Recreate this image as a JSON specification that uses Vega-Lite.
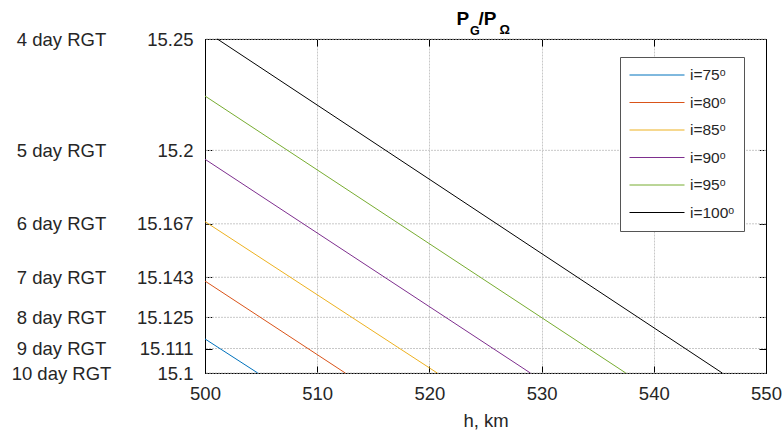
{
  "$schema": "https://vega.github.io/schema/vega-lite/v6.json",
  "width": 561,
  "height": 334,
  "autosize": {"type": "none"},
  "padding": {"left": 205, "top": 39, "right": 17, "bottom": 61},
  "background": "white",
  "config": {
    "font": "Liberation Sans",
    "view": {"stroke": "black", "strokeWidth": 1},
    "axis": {
      "labelFont": "Liberation Sans",
      "labelFontSize": 18.5,
      "labelColor": "#262626",
      "titleFont": "Liberation Sans",
      "titleFontSize": 18.5,
      "titleFontWeight": "normal",
      "titleColor": "#262626",
      "tickColor": "black",
      "domainColor": "black",
      "gridColor": "#c8c8c8",
      "gridDash": [2, 1],
      "labelOverlap": false,
      "labelBound": false,
      "labelFlush": false
    }
  },
  "datasets": {
    "lines": [
      {"series": "i=75\u1d52", "h": 500, "ratio": 15.1153},
      {"series": "i=75\u1d52", "h": 504.7, "ratio": 15.1},
      {"series": "i=80\u1d52", "h": 500, "ratio": 15.1413},
      {"series": "i=80\u1d52", "h": 512.5, "ratio": 15.1},
      {"series": "i=85\u1d52", "h": 500, "ratio": 15.168},
      {"series": "i=85\u1d52", "h": 520.7, "ratio": 15.1},
      {"series": "i=90\u1d52", "h": 500, "ratio": 15.196},
      {"series": "i=90\u1d52", "h": 529.0, "ratio": 15.1},
      {"series": "i=95\u1d52", "h": 500, "ratio": 15.2244},
      {"series": "i=95\u1d52", "h": 537.5, "ratio": 15.1},
      {"series": "i=100\u1d52", "h": 501.1, "ratio": 15.25},
      {"series": "i=100\u1d52", "h": 546.1, "ratio": 15.1}
    ],
    "rgt": [
      {"label": "4 day RGT", "ratio": 15.25},
      {"label": "5 day RGT", "ratio": 15.2},
      {"label": "6 day RGT", "ratio": 15.167},
      {"label": "7 day RGT", "ratio": 15.143},
      {"label": "8 day RGT", "ratio": 15.125},
      {"label": "9 day RGT", "ratio": 15.111},
      {"label": "10 day RGT", "ratio": 15.1}
    ]
  },
  "layer": [
    {
      "data": {"name": "rgt"},
      "mark": {"type": "rule", "color": "#c8c8c8", "strokeDash": [2, 1], "strokeWidth": 1},
      "encoding": {
        "y": {
          "field": "ratio",
          "type": "quantitative",
          "scale": {"domain": [15.1, 15.25], "nice": false, "zero": false},
          "axis": {
            "orient": "left",
            "title": null,
            "values": [15.1, 15.111, 15.125, 15.143, 15.167, 15.2, 15.25],
            "offset": 144,
            "ticks": false,
            "domain": false,
            "grid": false,
            "labelPadding": 0,
            "labelAlign": "center",
            "labelExpr": "datum.value == 15.25 ? '4 day RGT' : datum.value == 15.2 ? '5 day RGT' : datum.value == 15.167 ? '6 day RGT' : datum.value == 15.143 ? '7 day RGT' : datum.value == 15.125 ? '8 day RGT' : datum.value == 15.111 ? '9 day RGT' : '10 day RGT'"
          }
        }
      }
    },
    {
      "data": {"name": "lines"},
      "mark": {"type": "line", "strokeWidth": 1},
      "encoding": {
        "x": {
          "field": "h",
          "type": "quantitative",
          "scale": {"domain": [500, 550], "nice": false, "zero": false},
          "axis": {
            "orient": "bottom",
            "title": "h, km",
            "values": [500, 510, 520, 530, 540, 550],
            "format": "d",
            "tickSize": -7,
            "labelPadding": 18,
            "titlePadding": 9,
            "grid": true
          }
        },
        "y": {
          "field": "ratio",
          "type": "quantitative",
          "axis": {
            "orient": "left",
            "title": null,
            "values": [15.1, 15.111, 15.125, 15.143, 15.167, 15.2, 15.25],
            "tickSize": -7,
            "labelPadding": 19,
            "grid": false,
            "labelExpr": "'' + datum.value"
          }
        },
        "color": {
          "field": "series",
          "type": "nominal",
          "scale": {
            "domain": ["i=75\u1d52", "i=80\u1d52", "i=85\u1d52", "i=90\u1d52", "i=95\u1d52", "i=100\u1d52"],
            "range": ["#0072BD", "#D95319", "#EDB120", "#7E2F8E", "#77AC30", "#000000"]
          },
          "legend": {
            "title": null,
            "orient": "none",
            "legendX": 415,
            "legendY": 18,
            "symbolType": "stroke",
            "symbolSize": 3025,
            "symbolStrokeWidth": 1,
            "clipHeight": 18,
            "rowPadding": 9.5,
            "padding": 9,
            "labelOffset": 5,
            "labelFontSize": 15.5,
            "labelFont": "Liberation Sans",
            "labelColor": "#262626",
            "strokeColor": "#555555",
            "fillColor": "white",
            "cornerRadius": 0
          }
        }
      }
    },
    {
      "data": {"values": [{}]},
      "mark": {"type": "text", "text": "P", "fontWeight": "bold", "fontSize": 19, "align": "left", "baseline": "alphabetic", "dx": -29, "dy": -14, "color": "#000000"},
      "encoding": {
        "x": {"datum": 525, "type": "quantitative", "axis": {"orient": "top", "title": null, "labels": false, "values": [500, 510, 520, 530, 540, 550], "tickSize": -7, "grid": false, "domain": true}},
        "y": {"datum": 15.25, "type": "quantitative", "axis": {"orient": "right", "title": null, "labels": false, "values": [15.1, 15.111, 15.125, 15.143, 15.167, 15.2, 15.25], "tickSize": -7, "grid": false, "domain": true}}
      }
    },
    {
      "data": {"values": [{}]},
      "mark": {"type": "text", "text": "G", "fontWeight": "bold", "fontSize": 12.5, "align": "left", "baseline": "alphabetic", "dx": -15.5, "dy": -4, "color": "#000000"},
      "encoding": {
        "x": {"datum": 525, "type": "quantitative", "axis": null},
        "y": {"datum": 15.25, "type": "quantitative", "axis": null}
      }
    },
    {
      "data": {"values": [{}]},
      "mark": {"type": "text", "text": "/P", "fontWeight": "bold", "fontSize": 19, "align": "left", "baseline": "alphabetic", "dx": -7, "dy": -14, "color": "#000000"},
      "encoding": {
        "x": {"datum": 525, "type": "quantitative", "axis": null},
        "y": {"datum": 15.25, "type": "quantitative", "axis": null}
      }
    },
    {
      "data": {"values": [{}]},
      "mark": {"type": "text", "text": "\u03a9", "fontWeight": "bold", "fontSize": 13, "align": "left", "baseline": "alphabetic", "dx": 14, "dy": -5, "color": "#000000"},
      "encoding": {
        "x": {"datum": 525, "type": "quantitative", "axis": null},
        "y": {"datum": 15.25, "type": "quantitative", "axis": null}
      }
    }
  ],
  "resolve": {
    "scale": {"x": "shared", "y": "shared", "color": "shared"},
    "axis": {"x": "independent", "y": "independent"}
  }
}
